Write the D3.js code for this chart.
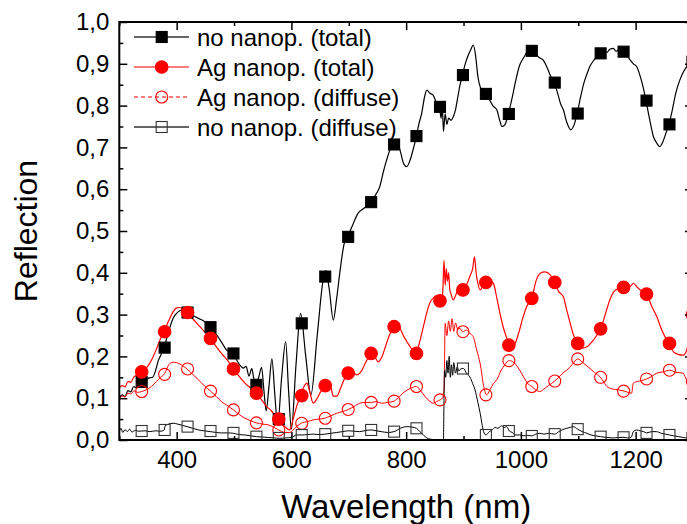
<!DOCTYPE html>
<html>
<head>
<meta charset="utf-8">
<script src="https://cdn.jsdelivr.net/npm/d3@7"></script>
<style>
  html, body { margin: 0; padding: 0; background: #fff; }
  svg { display: block; font-family: "Liberation Sans", Arial, sans-serif; }
</style>
</head>
<body>
<svg id="chart" width="687" height="524"></svg>
<script>
// ---------------- DATA ----------------
const seriesNames = ["no nanop. (total)", "Ag nanop. (total)", "Ag nanop. (diffuse)", "no nanop. (diffuse)"];
const xTickLabels = [400, 600, 800, 1000, 1200];
const yTickLabels = [0, 0.1, 0.2, 0.3, 0.4, 0.5, 0.6, 0.7, 0.8, 0.9, 1.0];

// wavelength (nm) of the symbols, shared by all series
const markerNm = [339,379,419,459,499,539,578,618,659,699,739,779,818,859,899,939,979,1019,1059,1099,1139,1179,1219,1259,1299];
const noTotalMarkers = [0.139,0.221,0.305,0.27,0.207,0.132,0.05,0.279,0.391,0.486,0.569,0.707,0.727,0.797,0.873,0.828,0.78,0.931,0.855,0.781,0.925,0.929,0.812,0.755,0.905];
const agTotalMarkers = [0.163,0.259,0.305,0.243,0.17,0.112,0.05,0.106,0.13,0.16,0.207,0.271,0.207,0.333,0.359,0.377,0.227,0.339,0.377,0.231,0.266,0.365,0.349,0.231,0.30];
const agDiffMarkers  = [0.116,0.157,0.17,0.117,0.072,0.041,0.024,0.04,0.052,0.073,0.09,0.093,0.128,0.096,0.259,0.108,0.19,0.128,0.141,0.194,0.15,0.117,0.146,0.167,0.14];
const noDiffMarkers  = [0.0215,0.024,0.032,0.0215,0.017,0.008,0.005,0.012,0.014,0.022,0.024,0.02,0.028,null,0.171,0.012,0.0215,0.0096,0.014,0.026,0.008,0.0065,0.017,0.012,0.005];

// measured curves [wavelength nm, reflection]
const noTotalLine = [[300,0.100],[305,0.108],[310,0.104],[315,0.118],[320,0.115],[325,0.128],[330,0.124],[335,0.135],[340,0.138],[345,0.142],[351,0.148],[358,0.150],[363,0.165],[368,0.19],[373,0.205],[378,0.221],[386,0.26],[394,0.292],[402,0.306],[409,0.311],[418,0.307],[428,0.298],[438,0.291],[449,0.283],[459,0.27],[466,0.258],[472,0.247],[480,0.23],[487,0.215],[497,0.207],[503,0.195],[510,0.179],[516,0.172],[521,0.176],[526,0.153],[531,0.171],[534,0.15],[538,0.132],[543,0.15],[548,0.174],[552,0.12],[556,0.07],[561,0.13],[566,0.194],[571,0.11],[576,0.036],[583,0.15],[590,0.235],[595,0.12],[600,0.026],[608,0.18],[616,0.303],[625,0.2],[634,0.108],[645,0.25],[655,0.38],[660,0.405],[666,0.36],[673,0.287],[679,0.34],[685,0.407],[692,0.47],[698,0.486],[707,0.515],[716,0.542],[727,0.555],[738,0.569],[746,0.585],[754,0.606],[760,0.64],[766,0.67],[772,0.695],[778,0.707],[784,0.715],[790,0.69],[796,0.66],[801,0.654],[807,0.67],[812,0.694],[818,0.727],[822,0.755],[827,0.781],[832,0.82],[836,0.837],[841,0.83],[847,0.825],[852,0.81],[858,0.797],[861,0.77],[863,0.80],[865,0.738],[868,0.78],[871,0.755],[874,0.77],[878,0.765],[882,0.773],[886,0.79],[890,0.82],[894,0.85],[898,0.873],[903,0.9],[908,0.92],[913,0.935],[917,0.945],[921,0.92],[925,0.87],[929,0.845],[934,0.835],[938,0.828],[945,0.815],[951,0.80],[958,0.79],[963,0.765],[967,0.75],[972,0.754],[978,0.78],[985,0.82],[991,0.86],[998,0.897],[1005,0.915],[1012,0.93],[1018,0.935],[1025,0.925],[1032,0.915],[1039,0.909],[1046,0.89],[1052,0.87],[1058,0.855],[1064,0.83],[1069,0.805],[1074,0.79],[1080,0.76],[1087,0.742],[1093,0.755],[1098,0.781],[1104,0.82],[1110,0.855],[1115,0.875],[1120,0.893],[1128,0.91],[1138,0.925],[1145,0.93],[1150,0.927],[1155,0.935],[1161,0.937],[1166,0.93],[1172,0.935],[1178,0.929],[1185,0.92],[1190,0.91],[1196,0.9],[1202,0.893],[1208,0.87],[1213,0.845],[1218,0.812],[1224,0.77],[1231,0.726],[1237,0.71],[1242,0.702],[1248,0.715],[1253,0.735],[1258,0.755],[1264,0.79],[1270,0.83],[1277,0.861],[1283,0.88],[1289,0.893],[1295,0.905],[1300,0.91]];

const agTotalLine = [[300,0.125],[305,0.13],[310,0.127],[315,0.14],[320,0.138],[325,0.15],[330,0.155],[339,0.163],[347,0.172],[356,0.191],[364,0.215],[371,0.24],[378,0.259],[386,0.285],[394,0.307],[400,0.316],[406,0.317],[412,0.31],[418,0.305],[428,0.29],[438,0.275],[448,0.26],[459,0.243],[468,0.225],[478,0.207],[489,0.19],[499,0.17],[509,0.152],[519,0.136],[529,0.124],[539,0.112],[548,0.096],[557,0.08],[565,0.07],[572,0.058],[578,0.05],[584,0.04],[590,0.03],[597,0.024],[603,0.05],[609,0.08],[616,0.106],[622,0.128],[627,0.136],[632,0.115],[638,0.088],[645,0.1],[652,0.118],[659,0.13],[664,0.14],[669,0.126],[673,0.105],[679,0.105],[686,0.125],[693,0.148],[699,0.16],[706,0.162],[714,0.156],[722,0.165],[731,0.19],[740,0.207],[746,0.198],[751,0.187],[758,0.2],[765,0.228],[772,0.255],[779,0.271],[784,0.275],[790,0.265],[797,0.245],[807,0.223],[812,0.213],[817,0.207],[823,0.232],[830,0.271],[837,0.31],[842,0.33],[847,0.339],[852,0.345],[856,0.34],[859,0.333],[862,0.33],[864,0.36],[866,0.43],[868,0.37],[870,0.41],[872,0.38],[874,0.40],[876,0.36],[878,0.35],[882,0.335],[886,0.345],[890,0.36],[894,0.365],[898,0.359],[903,0.365],[908,0.38],[912,0.395],[916,0.41],[919,0.438],[922,0.40],[925,0.375],[929,0.359],[934,0.37],[939,0.377],[946,0.38],[952,0.375],[958,0.34],[964,0.30],[969,0.271],[975,0.245],[980,0.227],[985,0.222],[990,0.231],[997,0.26],[1004,0.295],[1010,0.319],[1019,0.339],[1027,0.383],[1034,0.399],[1042,0.402],[1051,0.395],[1059,0.377],[1066,0.355],[1074,0.343],[1080,0.31],[1086,0.279],[1092,0.25],[1099,0.231],[1107,0.22],[1115,0.223],[1124,0.235],[1132,0.25],[1139,0.266],[1147,0.3],[1155,0.335],[1162,0.355],[1170,0.362],[1178,0.365],[1186,0.372],[1191,0.368],[1196,0.375],[1203,0.365],[1211,0.356],[1219,0.349],[1228,0.32],[1237,0.295],[1245,0.265],[1252,0.245],[1259,0.231],[1266,0.211],[1274,0.205],[1283,0.203],[1289,0.215],[1295,0.26],[1300,0.30]];

const agDiffLine = [[300,0.098],[305,0.105],[310,0.103],[315,0.112],[320,0.11],[326,0.118],[332,0.114],[339,0.116],[347,0.12],[356,0.128],[365,0.14],[372,0.15],[378,0.157],[388,0.183],[394,0.186],[400,0.185],[408,0.18],[418,0.17],[428,0.157],[438,0.144],[448,0.13],[459,0.117],[469,0.104],[478,0.092],[489,0.082],[499,0.072],[509,0.061],[519,0.052],[529,0.046],[539,0.041],[550,0.038],[560,0.036],[570,0.03],[578,0.024],[588,0.018],[597,0.018],[607,0.03],[617,0.04],[628,0.044],[638,0.048],[648,0.05],[658,0.052],[669,0.058],[679,0.064],[689,0.068],[699,0.073],[709,0.08],[719,0.088],[730,0.09],[740,0.09],[748,0.092],[757,0.088],[768,0.09],[779,0.093],[788,0.104],[798,0.116],[808,0.124],[818,0.128],[825,0.118],[833,0.104],[840,0.094],[847,0.088],[853,0.092],[859,0.096],[863,0.10],[866,0.12],[867,0.2],[868,0.279],[871,0.25],[874,0.285],[877,0.26],[880,0.29],[883,0.26],[886,0.28],[890,0.265],[894,0.267],[898,0.259],[905,0.263],[911,0.255],[917,0.247],[923,0.215],[929,0.183],[935,0.13],[940,0.108],[946,0.12],[952,0.135],[958,0.144],[965,0.165],[972,0.18],[980,0.19],[988,0.185],[998,0.167],[1005,0.15],[1012,0.135],[1019,0.128],[1026,0.12],[1033,0.116],[1040,0.122],[1048,0.13],[1059,0.141],[1066,0.15],[1073,0.16],[1080,0.167],[1089,0.18],[1099,0.194],[1108,0.185],[1117,0.175],[1128,0.162],[1138,0.151],[1145,0.138],[1150,0.128],[1160,0.122],[1170,0.12],[1180,0.117],[1187,0.114],[1193,0.112],[1196,0.136],[1203,0.14],[1210,0.142],[1219,0.146],[1228,0.152],[1237,0.16],[1248,0.163],[1259,0.167],[1270,0.162],[1283,0.16],[1289,0.144],[1300,0.14]];

const noDiffLine = [[300,0.02],[303,0.028],[306,0.018],[310,0.025],[314,0.02],[318,0.026],[322,0.019],[328,0.023],[334,0.021],[339,0.0215],[346,0.022],[352,0.02],[358,0.021],[364,0.022],[370,0.021],[376,0.022],[378,0.024],[380,0.034],[386,0.038],[394,0.04],[402,0.038],[410,0.035],[418,0.032],[428,0.028],[438,0.024],[448,0.022],[459,0.02],[469,0.018],[478,0.017],[489,0.017],[499,0.016],[509,0.013],[519,0.012],[529,0.01],[539,0.008],[550,0.007],[560,0.006],[570,0.005],[580,0.004],[590,0.005],[600,0.006],[609,0.012],[617,0.012],[628,0.013],[638,0.014],[648,0.013],[658,0.014],[669,0.016],[679,0.018],[689,0.02],[699,0.022],[709,0.021],[719,0.02],[730,0.023],[740,0.024],[748,0.022],[757,0.02],[768,0.018],[779,0.02],[790,0.028],[801,0.032],[810,0.031],[818,0.028],[824,0.02],[830,0.012],[836,0.005],[842,0.002],[850,0.001],[860,0.001],[865,0.001],[866,0.1],[867,0.167],[869,0.15],[871,0.19],[873,0.16],[875,0.2],[877,0.15],[879,0.18],[881,0.155],[883,0.185],[886,0.16],[889,0.175],[892,0.165],[895,0.17],[900,0.171],[905,0.16],[911,0.151],[916,0.135],[920,0.12],[925,0.09],[929,0.064],[932,0.04],[935,0.02],[939,0.012],[945,0.02],[950,0.024],[955,0.03],[960,0.028],[966,0.034],[971,0.03],[975,0.032],[980,0.0215],[985,0.018],[990,0.012],[998,0.012],[1005,0.01],[1012,0.011],[1019,0.01],[1026,0.014],[1033,0.016],[1040,0.014],[1048,0.016],[1059,0.014],[1066,0.02],[1073,0.025],[1080,0.028],[1086,0.03],[1091,0.032],[1099,0.026],[1107,0.02],[1115,0.016],[1122,0.012],[1130,0.01],[1139,0.008],[1150,0.006],[1161,0.005],[1170,0.006],[1178,0.0065],[1186,0.005],[1192,0.006],[1196,0.02],[1202,0.024],[1208,0.022],[1214,0.02],[1219,0.017],[1228,0.02],[1236,0.02],[1245,0.016],[1252,0.014],[1259,0.012],[1266,0.01],[1275,0.008],[1283,0.006],[1290,0.005],[1300,0.005]];

// ---------------- CHART ----------------
const svg = d3.select("#chart");
const x = d3.scaleLinear().domain([300, 1300]).range([119.3, 693]);
const y = d3.scaleLinear().domain([0, 1]).range([440, 22]);
const fmtY = d => d.toFixed(1).replace(".", ",");

svg.append("defs").append("clipPath").attr("id", "plotclip")
  .append("rect").attr("x", x(300)).attr("y", y(1)).attr("width", x(1300) - x(300)).attr("height", y(0) - y(1));

const plot = svg.append("g").attr("clip-path", "url(#plotclip)");
const line = d3.line().x(d => x(d[0])).y(d => y(d[1])).curve(d3.curveMonotoneX);

const styles = [
  { line: noTotalLine, markers: noTotalMarkers, color: "#000", width: 1.2, shape: "square", filled: true },
  { line: agTotalLine, markers: agTotalMarkers, color: "#ff0000", width: 1.2, shape: "circle", filled: true },
  { line: agDiffLine, markers: agDiffMarkers, color: "#ff0000", width: 1.0, shape: "circle", filled: false },
  { line: noDiffLine, markers: noDiffMarkers, color: "#000", width: 1.0, shape: "square", filled: false }
];

function drawMarker(g, cx, cy, s) {
  if (s.shape === "square") {
    const size = 11;
    g.append("rect").attr("x", cx - size / 2).attr("y", cy - size / 2).attr("width", size).attr("height", size)
      .attr("fill", s.filled ? s.color : "none").attr("stroke", s.filled ? s.color : "#333").attr("stroke-width", 1.1);
  } else {
    g.append("circle").attr("cx", cx).attr("cy", cy).attr("r", s.filled ? 6.3 : 6)
      .attr("fill", s.filled ? s.color : "none").attr("stroke", s.color).attr("stroke-width", 1.1);
  }
}

styles.forEach(s => {
  plot.append("path").datum(s.line).attr("d", line).attr("fill", "none")
    .attr("stroke", s.color).attr("stroke-width", s.width).attr("stroke-linejoin", "round");
});
styles.forEach(s => {
  const g = plot.append("g");
  markerNm.forEach((nm, i) => {
    if (s.markers[i] == null) return;
    drawMarker(g, x(nm), y(s.markers[i]), s);
  });
});

// ---------------- AXES ----------------
const majorX = xTickLabels;
const minorX = d3.range(300, 1301, 100).filter(v => !majorX.includes(v));
const majorY = yTickLabels;
const minorY = d3.range(0.05, 1, 0.1);

function styleAxis(g) {
  g.select(".domain").remove();
  g.selectAll("line").attr("stroke", "#000").attr("stroke-width", 1.5);
  g.selectAll("text").attr("fill", "#000").style("font-size", "24px").style("font-family", '"Liberation Sans", Arial, sans-serif');
}

svg.append("g").attr("transform", `translate(0,${y(0)})`)
  .call(d3.axisBottom(x).tickValues(majorX).tickSizeInner(-8).tickSizeOuter(0).tickPadding(11).tickFormat(d3.format("d")))
  .call(styleAxis);
svg.append("g").attr("transform", `translate(0,${y(0)})`)
  .call(d3.axisBottom(x).tickValues(minorX).tickSizeInner(-4).tickSizeOuter(0).tickFormat(""))
  .call(styleAxis);
svg.append("g").attr("transform", `translate(0,${y(1)})`)
  .call(d3.axisTop(x).tickValues(majorX).tickSizeInner(-8).tickSizeOuter(0).tickFormat(""))
  .call(styleAxis);
svg.append("g").attr("transform", `translate(0,${y(1)})`)
  .call(d3.axisTop(x).tickValues(minorX).tickSizeInner(-4).tickSizeOuter(0).tickFormat(""))
  .call(styleAxis);
svg.append("g").attr("transform", `translate(${x(300)},0)`)
  .call(d3.axisLeft(y).tickValues(majorY).tickSizeInner(-8).tickSizeOuter(0).tickPadding(10).tickFormat(fmtY))
  .call(styleAxis);
svg.append("g").attr("transform", `translate(${x(300)},0)`)
  .call(d3.axisLeft(y).tickValues(minorY).tickSizeInner(-4).tickSizeOuter(0).tickFormat(""))
  .call(styleAxis);
svg.append("g").attr("transform", `translate(${x(1300)},0)`)
  .call(d3.axisRight(y).tickValues(majorY).tickSizeInner(-8).tickSizeOuter(0).tickFormat(""))
  .call(styleAxis);
svg.append("g").attr("transform", `translate(${x(1300)},0)`)
  .call(d3.axisRight(y).tickValues(minorY).tickSizeInner(-4).tickSizeOuter(0).tickFormat(""))
  .call(styleAxis);

svg.append("rect").attr("x", x(300)).attr("y", y(1)).attr("width", x(1300) - x(300)).attr("height", y(0) - y(1))
  .attr("fill", "none").attr("stroke", "#000").attr("stroke-width", 2);

// axis titles
svg.append("text").attr("x", (x(300) + x(1300)) / 2).attr("y", 518).attr("text-anchor", "middle")
  .style("font-size", "33px").attr("fill", "#000").text("Wavelength (nm)");
svg.append("text").attr("transform", `translate(37,${(y(0) + y(1)) / 2}) rotate(-90)`).attr("text-anchor", "middle")
  .style("font-size", "32px").attr("fill", "#000").text("Reflection");

// ---------------- LEGEND ----------------
const legRows = [37, 67, 97, 127];
const leg = svg.append("g");
styles.forEach((s, i) => {
  const ry = legRows[i];
  leg.append("line").attr("x1", 134).attr("x2", 189).attr("y1", ry).attr("y2", ry)
    .attr("stroke", i === 1 || i === 2 ? "#ff5050" : "#333").attr("stroke-width", 1.3)
    .attr("stroke-dasharray", i === 2 ? "4,3" : null);
  drawMarker(leg, 161.7, ry, s);
  leg.append("text").attr("x", 197).attr("y", ry + 8.5).style("font-size", "24px").attr("fill", "#000").text(seriesNames[i]);
});
</script>
</body>
</html>
